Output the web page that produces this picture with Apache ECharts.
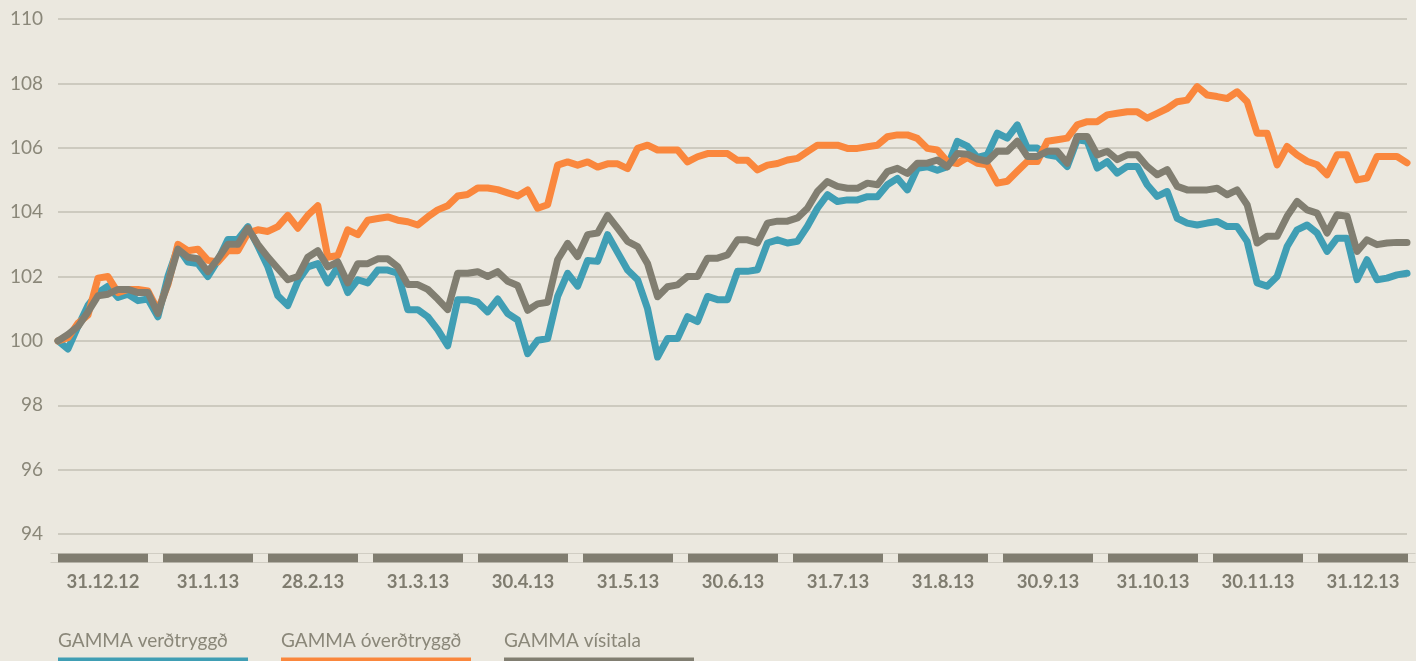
<!DOCTYPE html>
<html>
<head>
<meta charset="utf-8">
<script src="https://cdn.jsdelivr.net/npm/echarts@6/dist/echarts.min.js"></script>
<style>
  html, body { margin: 0; padding: 0; background: #ebe8df; }
  #chart { width: 1416px; height: 661px; }
</style>
</head>
<body>
<div id="chart"></div>
<script>
// mánaðarmerkingar á x-ás
var months = ['31.12.12', '31.1.13', '28.2.13', '31.3.13', '30.4.13', '31.5.13', '30.6.13',
              '31.7.13', '31.8.13', '30.9.13', '31.10.13', '30.11.13', '31.12.13'];

var yTicks = [94, 96, 98, 100, 102, 104, 106, 108, 110];

// GAMMA verðtryggð
var verdtryggd = [100, 99.75, 100.45, 101.1, 101.5, 101.7, 101.35, 101.45, 101.25, 101.3,
  100.75, 102.0, 102.9, 102.45, 102.4, 102.0, 102.5, 103.15, 103.15, 103.55,
  102.95, 102.3, 101.4, 101.1, 101.85, 102.3, 102.4, 101.8, 102.3, 101.5,
  101.9, 101.8, 102.2, 102.2, 102.1, 100.97, 100.97, 100.75, 100.35, 99.85,
  101.28, 101.28, 101.2, 100.9, 101.3, 100.85, 100.65, 99.6, 100.02, 100.07,
  101.38, 102.1, 101.7, 102.5, 102.47, 103.3, 102.75, 102.2, 101.9, 101.0,
  99.5, 100.07, 100.07, 100.75, 100.6, 101.38, 101.28, 101.28, 102.16, 102.16,
  102.21, 103.04, 103.14, 103.04, 103.09, 103.56, 104.12, 104.54, 104.33, 104.38,
  104.38, 104.48, 104.48, 104.85, 105.05, 104.69, 105.36, 105.41, 105.3, 105.41,
  106.2, 106.05, 105.7, 105.78, 106.45, 106.3, 106.71, 105.99, 105.99, 105.78,
  105.73, 105.42, 106.25, 106.2, 105.37, 105.57, 105.21, 105.42, 105.42, 104.85,
  104.49, 104.64, 103.81, 103.66, 103.6, 103.66, 103.71, 103.55, 103.55, 103.09,
  101.8, 101.7, 102.0, 102.93, 103.45, 103.6, 103.35, 102.78, 103.19, 103.19,
  101.9, 102.52, 101.9, 101.95, 102.05, 102.1];

// GAMMA óverðtryggð
var overdtryggd = [100, 100.1, 100.55, 100.8, 101.95, 102.0, 101.5, 101.6, 101.6, 101.55,
  100.95, 101.75, 103.0, 102.8, 102.85, 102.5, 102.45, 102.8, 102.8, 103.35,
  103.45, 103.4, 103.55, 103.9, 103.5, 103.9, 104.2, 102.6, 102.65, 103.45,
  103.3, 103.75, 103.8, 103.85, 103.75, 103.7, 103.6, 103.85, 104.07, 104.2,
  104.5, 104.55, 104.75, 104.75, 104.7, 104.6, 104.5, 104.69, 104.12, 104.23,
  105.46, 105.56, 105.46, 105.56, 105.4, 105.5, 105.5, 105.35, 105.98, 106.08,
  105.93, 105.93, 105.93, 105.56, 105.72, 105.82, 105.82, 105.82, 105.61, 105.61,
  105.31, 105.46, 105.51, 105.62, 105.67, 105.88, 106.08, 106.08, 106.08, 105.98,
  105.98, 106.03, 106.08, 106.34, 106.4, 106.4, 106.29, 105.98, 105.93, 105.57,
  105.51, 105.7, 105.52, 105.47, 104.9, 104.96, 105.27, 105.57, 105.57, 106.2,
  106.25, 106.3, 106.71, 106.81, 106.81, 107.02, 107.07, 107.12, 107.12, 106.92,
  107.07, 107.22, 107.43, 107.48, 107.9, 107.64, 107.59, 107.53, 107.74, 107.43,
  106.45, 106.45, 105.47, 106.04, 105.78, 105.58, 105.47, 105.16, 105.78, 105.78,
  105.0, 105.06, 105.73, 105.73, 105.73, 105.53];

// GAMMA vísitala
var visitala = [100, 100.2, 100.45, 100.9, 101.4, 101.45, 101.6, 101.6, 101.5, 101.5,
  100.85, 101.8, 102.85, 102.6, 102.55, 102.15, 102.55, 103.0, 103.0, 103.5,
  103.0, 102.6, 102.25, 101.9, 102.0, 102.6, 102.8, 102.3, 102.45, 101.8,
  102.4, 102.4, 102.55, 102.55, 102.3, 101.75, 101.75, 101.6, 101.3, 100.97,
  102.1, 102.1, 102.15, 102.0, 102.15, 101.85, 101.72, 100.95, 101.15, 101.2,
  102.52, 103.03, 102.62, 103.3, 103.35, 103.9, 103.5, 103.09, 102.93, 102.4,
  101.37, 101.68, 101.74, 102.0, 102.0, 102.57, 102.57, 102.67, 103.14, 103.14,
  103.04, 103.66, 103.72, 103.72, 103.82, 104.12, 104.64, 104.95, 104.8, 104.74,
  104.74, 104.9, 104.85, 105.26, 105.36, 105.2, 105.52, 105.52, 105.62, 105.41,
  105.82, 105.8, 105.65, 105.58, 105.89, 105.89, 106.2, 105.73, 105.73, 105.89,
  105.89, 105.52, 106.35, 106.35, 105.78, 105.89, 105.63, 105.78, 105.78, 105.42,
  105.16, 105.32, 104.8, 104.69, 104.69, 104.69, 104.74, 104.54, 104.69, 104.23,
  103.04, 103.25, 103.25, 103.87, 104.33, 104.07, 103.97, 103.35, 103.92, 103.87,
  102.78, 103.14, 102.99, 103.04, 103.06, 103.06];

var seriesNames = ['GAMMA verðtryggð', 'GAMMA óverðtryggð', 'GAMMA vísitala'];
var colors = ['#409eb4', '#fa873d', '#817e71'];

var bg = '#ebe8df';
var textColor = '#8a8779';
var fontName = 'Lato, "Noto Sans", sans-serif';

var xIndex = [];
for (var i = 0; i < verdtryggd.length; i++) {
    xIndex.push(i);
}

var myChart = echarts.init(document.getElementById('chart'), null, {renderer: 'canvas'});

var option = {
    backgroundColor: bg,
    animation: false,
    color: colors,
    textStyle: {fontFamily: fontName},
    grid: [
        {left: 58, right: 9, top: 19, bottom: 127},
        // grind fyrir mánaðarkubbana
        {left: 50.5, right: 0.5, top: 553.5, height: 9, show: true,
         backgroundColor: '#807d70', borderWidth: 0}
    ],
    legend: {
        left: 52,
        top: 631,
        padding: 0,
        itemGap: 27,
        itemWidth: 0,
        itemHeight: 0,
        selectedMode: false,
        data: seriesNames,
        formatter: function (name) {
            return '{t|' + name + '}\n{u' + seriesNames.indexOf(name) + '|}';
        },
        textStyle: {
            color: textColor,
            fontFamily: fontName,
            fontSize: 19,
            rich: {
                t: {fontSize: 19, color: textColor, lineHeight: 34, fontFamily: fontName},
                u0: {width: 190, height: 4, backgroundColor: colors[0]},
                u1: {width: 190, height: 4, backgroundColor: colors[1]},
                u2: {width: 190, height: 4, backgroundColor: colors[2]}
            }
        }
    },
    xAxis: [
        {
            type: 'category',
            gridIndex: 0,
            data: xIndex,
            boundaryGap: false,
            axisLine: {show: false},
            axisTick: {show: false},
            axisLabel: {show: false},
            splitLine: {show: false}
        },
        {
            type: 'category',
            gridIndex: 1,
            data: months,
            boundaryGap: true,
            position: 'bottom',
            axisLine: {show: false},
            axisTick: {show: false},
            axisLabel: {
                interval: 0,
                margin: 10,
                color: '#7f7c6f',
                fontSize: 18.5,
                fontWeight: 'bold',
                fontFamily: fontName
            },
            splitLine: {
                show: true,
                interval: 0,
                lineStyle: {color: bg, width: 15}
            }
        }
    ],
    yAxis: [
        {
            type: 'value',
            gridIndex: 0,
            min: 94,
            max: 110,
            interval: 2,
            axisLine: {show: false},
            axisTick: {show: false},
            axisLabel: {
                margin: 15,
                color: textColor,
                fontSize: 19,
                fontFamily: fontName
            },
            splitLine: {lineStyle: {color: '#cdcabf', width: 2}}
        },
        {type: 'value', gridIndex: 1, show: false}
    ],
    series: [verdtryggd, overdtryggd, visitala].map(function (d, i) {
        return {
            name: seriesNames[i],
            type: 'line',
            xAxisIndex: 0,
            yAxisIndex: 0,
            data: d,
            showSymbol: false,
            symbol: 'none',
            lineStyle: {width: 7, color: colors[i], join: 'round', cap: 'round'},
            itemStyle: {color: colors[i]}
        };
    })
};

myChart.setOption(option);
</script>
</body>
</html>
